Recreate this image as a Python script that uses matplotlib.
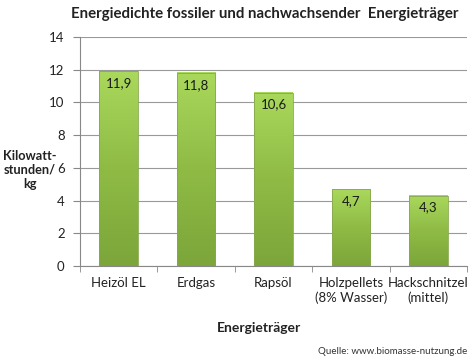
import numpy as np
import matplotlib.pyplot as plt
from matplotlib.colors import LinearSegmentedColormap

plt.rcParams['font.family'] = ['Lato', 'DejaVu Sans']

categories = ["Heizöl EL", "Erdgas", "Rapsöl", "Holzpellets\n(8% Wasser)", "Hackschnitzel\n(mittel)"]
values = [11.9, 11.8, 10.6, 4.7, 4.3]
labels = ["11,9", "11,8", "10,6", "4,7", "4,3"]

fig = plt.figure(figsize=(4.75, 3.64), dpi=100)
ax = fig.add_axes([80/475, 1 - 266/364, 387/475, 229/364])

cmap = LinearSegmentedColormap.from_list("gr", ["#7ca63a", "#8fbb45", "#a9d85c"])
grad = np.linspace(0, 1, 100).reshape(-1, 1)
w = 0.5
x = np.arange(len(categories))
bars = ax.bar(x, values, width=w, color="none", edgecolor="#86a84e", linewidth=0.6, zorder=3)
for xi, v in zip(x, values):
    ax.imshow(grad, extent=(xi - w/2, xi + w/2, 0, v), origin="lower", cmap=cmap,
              aspect="auto", zorder=2)
    ax.text(xi, v - 0.35, labels[xi], ha="center", va="top", fontsize=9.5, color="#1a1a1a", zorder=4)

ax.set_xlim(-0.5, len(categories) - 0.5)
ax.set_ylim(0, 14)
ax.set_yticks(range(0, 15, 2))
ax.set_xticks(x)
ax.set_xticklabels(categories, fontsize=9.5, color="#222222")
ax.set_xticks(np.arange(-0.5, len(categories)), minor=True)
ax.tick_params(axis="x", which="major", length=0, pad=8)
ax.tick_params(axis="x", which="minor", length=4, color="#888888")
ax.tick_params(axis="y", length=5, color="#888888", labelsize=9.5, labelcolor="#222222", pad=6)
ax.grid(axis="y", color="#999999", linewidth=0.8, zorder=0)
for s in ["top", "right"]:
    ax.spines[s].set_visible(False)
for s in ["left", "bottom"]:
    ax.spines[s].set_color("#888888")

fig.text(265/475, 1 - 14/364, "Energiedichte fossiler und nachwachsender  Energieträger",
         ha="center", va="center", fontsize=10.8, fontweight="bold", color="#222222")
fig.text(30/475, 1 - 170/364, "Kilowatt-\nstunden/\nkg", ha="center", va="center",
         fontsize=9.2, fontweight="bold", linespacing=1.25, color="#222222")
fig.text(259/475, 1 - 328/364, "Energieträger", ha="center", va="center",
         fontsize=10, fontweight="bold", color="#222222")
fig.text(467/475, 1 - 352/364, "Quelle: www.biomasse-nutzung.de", ha="right", va="center",
         fontsize=7, color="#333333")

fig.savefig("out.png", dpi=100)
